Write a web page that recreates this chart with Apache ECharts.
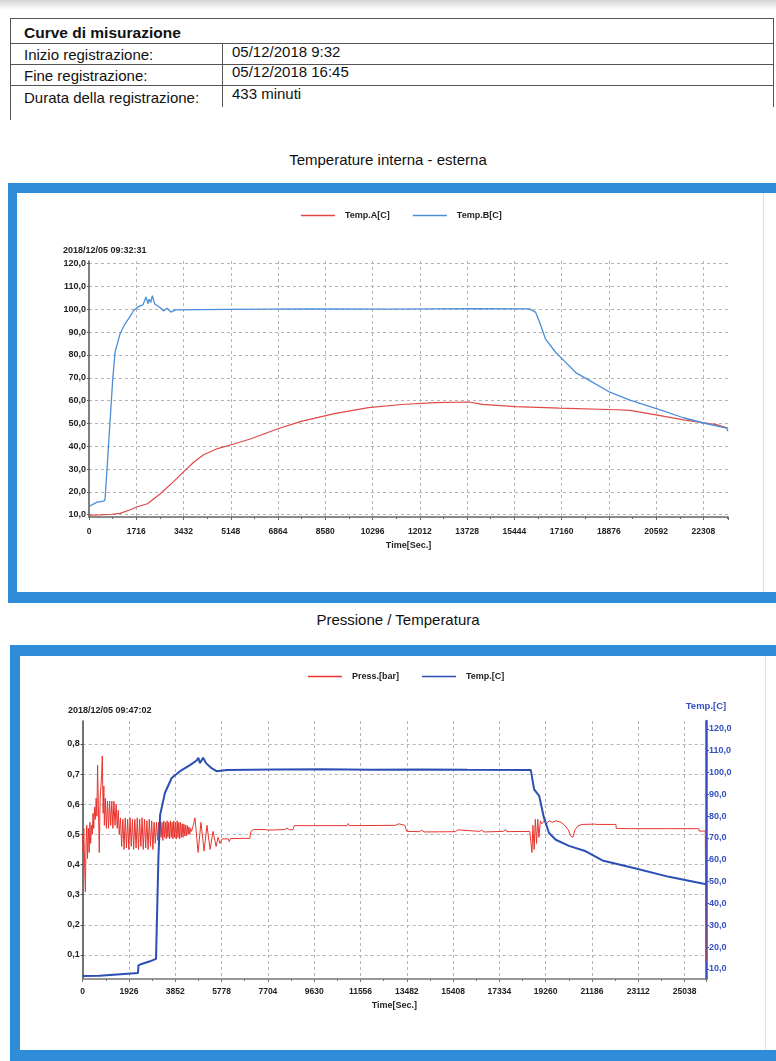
<!DOCTYPE html>
<html>
<head>
<meta charset="utf-8">
<script src="https://cdn.jsdelivr.net/npm/echarts@6/dist/echarts.min.js"></script>
<style>
  body { margin: 0; background: #fff; font-family: 'Liberation Sans', Arial, sans-serif; }
  #page { position: relative; width: 776px; height: 1061px; overflow: hidden; background: #fff; }
  .shade { position: absolute; left: 0; top: 0; width: 776px; height: 10px; background: linear-gradient(#d4d4d4, #fff); }
  .hl { position: absolute; height: 1px; background: #555; }
  .vl { position: absolute; width: 1px; background: #555; }
  .txt { position: absolute; height: 20px; line-height: 20px; font-size: 15px; color: #111; white-space: nowrap; }
  .title { position: absolute; width: 776px; height: 18px; line-height: 18px; text-align: center; font-size: 15px; color: #111; }
  .frame { position: absolute; box-sizing: border-box; border-style: solid; border-color: #2f8cd8; background: #fff; }
  .frame .chart { position: absolute; left: 0; top: 0; width: 100%; height: 100%; }
  .frame .edge { position: absolute; top: 0; bottom: 0; width: 1px; background: #e0e0e0; }
</style>
</head>
<body>
<div id="page">
  <div class="shade"></div>

  <!-- tabella intestazione -->
  <div class="hl" style="left:10px;top:18px;width:763px"></div>
  <div class="hl" style="left:10px;top:43px;width:763px"></div>
  <div class="hl" style="left:10px;top:64px;width:763px"></div>
  <div class="hl" style="left:10px;top:85px;width:763px"></div>
  <div class="vl" style="left:10px;top:18px;height:102px"></div>
  <div class="vl" style="left:773px;top:18px;height:89px"></div>
  <div class="vl" style="left:222px;top:43px;height:64px"></div>

  <div class="txt" style="left:24px;top:23px;font-weight:bold;font-size:15.5px">Curve di misurazione</div>
  <div class="txt" style="left:24px;top:45px">Inizio registrazione:</div>
  <div class="txt" style="left:232px;top:42px">05/12/2018 9:32</div>
  <div class="txt" style="left:24px;top:66px">Fine registrazione:</div>
  <div class="txt" style="left:232px;top:62px">05/12/2018 16:45</div>
  <div class="txt" style="left:24px;top:88px">Durata della registrazione:</div>
  <div class="txt" style="left:232px;top:84px">433 minuti</div>

  <div class="title" style="left:0;top:151px">Temperature interna - esterna</div>
  <div class="frame" style="left:8px;top:183px;width:800px;height:420px;border-width:10px 9px 11px 9px">
    <div class="edge" style="left:746px"></div>
    <div class="chart" id="chart1"></div>
  </div>

  <div class="title" style="left:10px;top:611px">Pressione / Temperatura</div>
  <div class="frame" style="left:10px;top:645px;width:800px;height:425px;border-width:11px 9px 20px 10px">
    <div class="edge" style="left:745px"></div>
    <div class="chart" id="chart2"></div>
  </div>
</div>

<script>
// Temperature interna - esterna
const timeA = [0, 400, 800, 1130, 1500, 1750, 2120, 2590, 3070, 3430, 3800, 4160, 4670, 5260, 5880, 6860,
  7700, 8910, 10150, 11350, 12560, 13800, 14280, 15480, 17090, 19130, 19640, 20740, 21580, 22780, 23200];
const tempA = [9.8, 9.9, 10.2, 10.6, 12.2, 13.5, 14.8, 19.2, 24.5, 28.8, 33.0, 36.3, 39.0, 41.0, 43.3, 47.7,
  50.9, 54.3, 56.9, 58.3, 59.1, 59.4, 58.4, 57.4, 56.7, 56.0, 55.7, 53.4, 51.6, 49.5, 48.0];

const timeB = [0, 290, 550, 585, 865, 950, 1130, 1315, 1500, 1620, 1800, 1960, 2070, 2140, 2180, 2240,
  2300, 2380, 2470, 2580, 2710, 2830, 2980, 3130, 5000, 8000, 11000, 14000, 15990, 16210, 16356, 16575,
  16940, 17270, 17670, 18290, 18910, 19640, 20740, 21580, 22310, 23150, 23200];
const tempB = [13.6, 15.5, 16.0, 17.0, 70.0, 81.5, 89.4, 93.8, 97.0, 99.5, 101.2, 102.0, 105.4, 102.5, 104.5, 103.0,
  106.0, 102.5, 101.7, 100.8, 99.3, 100.5, 98.8, 99.8, 100.0, 100.2, 100.1, 100.3, 100.2, 98.8, 94.5, 87.0,
  81.2, 77.2, 72.3, 68.0, 63.7, 60.2, 56.0, 52.5, 50.2, 48.0, 46.6];

// Pressione / Temperatura
const timeP = [
  0, 20, 45, 80, 110, 140, 170, 200, 235, 270,
  300, 330, 365, 400, 430, 460, 495, 525, 560, 590,
  620, 650, 690, 725, 760, 790, 815, 850, 880, 900,
  940, 985, 1030, 1075, 1120, 1165, 1210, 1255, 1300, 1345,
  1390, 1435, 1480, 1520, 1570, 1620, 1670, 1720, 1770, 1820,
  1870, 1920, 1970, 2020, 2070, 2120, 2170, 2220, 2270, 2320,
  2370, 2420, 2470, 2520, 2570, 2620, 2670, 2720, 2770, 2820,
  2870, 2920, 2970, 3020, 3070, 3120, 3160, 3195, 3230, 3265,
  3300, 3335, 3370, 3405, 3440, 3475, 3510, 3545, 3580, 3615,
  3650, 3685, 3720, 3755, 3790, 3825, 3860, 3895, 3930, 3965,
  4000, 4035, 4070, 4105, 4140, 4175, 4210, 4245, 4280, 4315,
  4350, 4385, 4420, 4455, 4490, 4530, 4600, 4670, 4800, 4920,
  5050, 5170, 5300, 5420, 5550, 5630, 5710, 5800, 6050, 6100,
  6150, 6950, 7000, 7100, 7600, 7650, 7700, 8400, 8500, 8600,
  8750, 8800, 9500, 9550, 9600, 11000, 11050, 11100, 13000, 13150,
  13400, 13480, 14000, 14100, 14200, 15500, 15600, 15650, 16500, 16600,
  16700, 17500, 17600, 17650, 18600, 18650, 18690, 18730, 18780, 18830,
  18880, 18930, 18980, 19040, 19100, 19200, 19300, 19400, 19550, 19700,
  19900, 20050, 20200, 20300, 20390, 20480, 20600, 20770, 21300, 21350,
  21400, 22180, 22200, 22700, 22750, 22800, 24300, 24350, 24450, 25630,
  25650, 25900, 25930
];
const press = [
  0.50, 0.44, 0.52, 0.40, 0.31, 0.47, 0.53, 0.42, 0.52, 0.44,
  0.54, 0.47, 0.53, 0.50, 0.57, 0.52, 0.59, 0.55, 0.62, 0.56,
  0.73, 0.60, 0.44, 0.62, 0.66, 0.70, 0.76, 0.57, 0.66, 0.53,
  0.62, 0.52, 0.61, 0.52, 0.61, 0.53, 0.61, 0.52, 0.61, 0.53,
  0.60, 0.52, 0.58, 0.50, 0.555, 0.46, 0.55, 0.45, 0.555, 0.455,
  0.55, 0.45, 0.555, 0.46, 0.55, 0.45, 0.55, 0.455, 0.555, 0.45,
  0.55, 0.46, 0.555, 0.45, 0.55, 0.455, 0.545, 0.45, 0.55, 0.46,
  0.545, 0.45, 0.54, 0.47, 0.54, 0.48, 0.54, 0.48, 0.545, 0.49,
  0.54, 0.48, 0.545, 0.49, 0.54, 0.485, 0.545, 0.49, 0.54, 0.485,
  0.545, 0.49, 0.54, 0.485, 0.545, 0.49, 0.54, 0.485, 0.545, 0.49,
  0.54, 0.485, 0.54, 0.49, 0.535, 0.49, 0.535, 0.495, 0.53, 0.495,
  0.53, 0.50, 0.525, 0.50, 0.52, 0.51, 0.53, 0.555, 0.44, 0.54,
  0.445, 0.53, 0.45, 0.51, 0.46, 0.49, 0.47, 0.485, 0.485, 0.476,
  0.486, 0.487, 0.51, 0.516, 0.516, 0.522, 0.514, 0.516, 0.521, 0.515,
  0.516, 0.529, 0.529, 0.534, 0.529, 0.529, 0.536, 0.529, 0.53, 0.535,
  0.53, 0.51, 0.509, 0.514, 0.508, 0.509, 0.515, 0.509, 0.51, 0.514,
  0.508, 0.51, 0.516, 0.509, 0.51, 0.47, 0.44, 0.53, 0.45, 0.55,
  0.47, 0.55, 0.49, 0.545, 0.535, 0.545, 0.535, 0.545, 0.54, 0.545,
  0.54, 0.53, 0.515, 0.495, 0.49, 0.515, 0.528, 0.533, 0.534, 0.538,
  0.533, 0.533, 0.52, 0.519, 0.523, 0.519, 0.519, 0.523, 0.519, 0.519,
  0.511, 0.511, 0.08
];

const timeT = [0, 700, 2300, 2320, 2450, 2800, 3050, 3090, 3150, 3220, 3420, 3700, 4050, 4480, 4740, 4810,
  4880, 5010, 5130, 5360, 5570, 5640, 6000, 8000, 10000, 12000, 14000, 16000, 18640, 18780, 18990, 19190,
  19400, 19680, 20230, 20930, 21620, 23010, 24390, 25780, 25920];
const tempT = [6.8, 6.9, 8.2, 11.6, 12.3, 13.5, 14.6, 15.5, 61.0, 80.6, 90.6, 97.5, 100.6, 103.5, 105.5, 106.8,
  104.3, 106.8, 104.3, 102.0, 100.6, 101.5, 101.2, 101.4, 101.5, 101.3, 101.4, 101.3, 101.2, 92.3, 89.3, 79.2,
  72.3, 69.2, 66.4, 63.9, 59.7, 56.0, 52.2, 49.2, 48.8];

const ticks1 = 1716;
const ticks2 = 1926;

const pairs = (xs, ys) => xs.map((x, i) => [x, ys[i]]);
const comma = (v) => v.toFixed(1).replace('.', ',');
const plain = (v) => String(v);

const FONT = 'Liberation Sans';
const gridLine = { show: true, showMinLine: false, showMaxLine: false, lineStyle: { color: '#b4b4b4', type: [3, 3], width: 1 } };
const labelStyle = { color: '#222', fontFamily: FONT, fontWeight: 'bold', fontSize: 9 };

const chart1 = echarts.init(document.getElementById('chart1'));
chart1.setOption({
  animation: false,
  textStyle: { fontFamily: FONT },
  legend: {
    left: 279, top: 13, icon: 'rect', itemWidth: 34, itemHeight: 1.5, itemGap: 23,
    textStyle: { ...labelStyle, padding: [0, 0, 0, 5] },
    data: ['Temp.A[C]', 'Temp.B[C]']
  },
  graphic: [{
    type: 'text', left: 46, top: 53,
    style: { text: '2018/12/05 09:32:31', fill: '#222', font: 'bold 9px "Liberation Sans"' }
  }],
  grid: { left: 72, top: 68, width: 639, height: 256 },
  xAxis: {
    type: 'value', min: 0, max: 23200, interval: ticks1,
    name: 'Time[Sec.]', nameLocation: 'middle', nameGap: 23,
    nameTextStyle: { ...labelStyle },
    axisLine: { lineStyle: { color: '#666', width: 1.5 } },
    axisTick: { show: true, length: 3, lineStyle: { color: '#666' } },
    minorTick: { show: true, splitNumber: 2, length: 2, lineStyle: { color: '#666' } },
    axisLabel: { ...labelStyle, fontSize: 8.5, margin: 10, showMaxLabel: false, formatter: plain },
    splitLine: gridLine
  },
  yAxis: {
    type: 'value', min: 9, max: 121.2, splitNumber: 11,
    axisLine: { show: true, lineStyle: { color: '#555', width: 1.5 } },
    axisTick: { show: true, length: 2, lineStyle: { color: '#555' } },
    axisLabel: { ...labelStyle, margin: 3, showMinLabel: false, showMaxLabel: false, formatter: comma },
    splitLine: gridLine
  },
  series: [
    { name: 'Temp.A[C]', type: 'line', symbol: 'none', data: pairs(timeA, tempA),
      lineStyle: { color: '#e04848', width: 1.2 }, itemStyle: { color: '#e04848' } },
    { name: 'Temp.B[C]', type: 'line', symbol: 'none', data: pairs(timeB, tempB),
      lineStyle: { color: '#4a8ed8', width: 1.3 }, itemStyle: { color: '#4a8ed8' } }
  ]
});

const chart2 = echarts.init(document.getElementById('chart2'));
chart2.setOption({
  animation: false,
  textStyle: { fontFamily: FONT },
  legend: {
    left: 283, top: 11, icon: 'rect', itemWidth: 34, itemHeight: 1.5, itemGap: 23,
    textStyle: { ...labelStyle, padding: [0, 0, 0, 5] },
    data: ['Press.[bar]', 'Temp.[C]']
  },
  graphic: [{
    type: 'text', left: 48, top: 50,
    style: { text: '2018/12/05 09:47:02', fill: '#222', font: 'bold 9px "Liberation Sans"' }
  }],
  grid: { left: 62.7, top: 65, width: 623.3, height: 258 },
  xAxis: {
    type: 'value', min: 0, max: 25930, interval: ticks2,
    name: 'Time[Sec.]', nameLocation: 'middle', nameGap: 21,
    nameTextStyle: { ...labelStyle },
    axisLine: { lineStyle: { color: '#777', width: 1.5 } },
    axisTick: { show: true, length: 3, lineStyle: { color: '#777' } },
    minorTick: { show: true, splitNumber: 2, length: 2, lineStyle: { color: '#777' } },
    axisLabel: { ...labelStyle, fontSize: 8.5, margin: 8, showMaxLabel: false, formatter: plain },
    splitLine: gridLine
  },
  yAxis: [
    {
      type: 'value', min: 0.0204, max: 0.876, splitNumber: 8,
      axisLine: { show: true, lineStyle: { color: '#444', width: 1.5 } },
      axisTick: { show: true, length: 2, lineStyle: { color: '#444' } },
      axisLabel: { ...labelStyle, margin: 3, showMinLabel: false, showMaxLabel: false, formatter: comma },
      splitLine: gridLine
    },
    {
      type: 'value', position: 'right', min: 5.4, max: 123.6, splitNumber: 12,
      name: 'Temp.[C]', nameLocation: 'end', nameGap: 10,
      nameTextStyle: { ...labelStyle, color: '#3550c0', fontSize: 9.5 },
      axisLine: { show: true, lineStyle: { color: '#3a4fc4', width: 2.5 } },
      axisTick: { show: true, length: 3, inside: false, lineStyle: { color: '#3a4fc4' } },
      axisLabel: { ...labelStyle, color: '#3550c0', margin: 3, showMinLabel: false, showMaxLabel: false, formatter: comma },
      splitLine: { show: false }
    }
  ],
  series: [
    { name: 'Press.[bar]', type: 'line', symbol: 'none', data: pairs(timeP, press),
      lineStyle: { color: '#e8352f', width: 1 }, itemStyle: { color: '#e8352f' } },
    { name: 'Temp.[C]', type: 'line', symbol: 'none', yAxisIndex: 1, data: pairs(timeT, tempT),
      lineStyle: { color: '#2c4fb4', width: 2 }, itemStyle: { color: '#2c4fb4' } }
  ]
});
</script>
</body>
</html>
